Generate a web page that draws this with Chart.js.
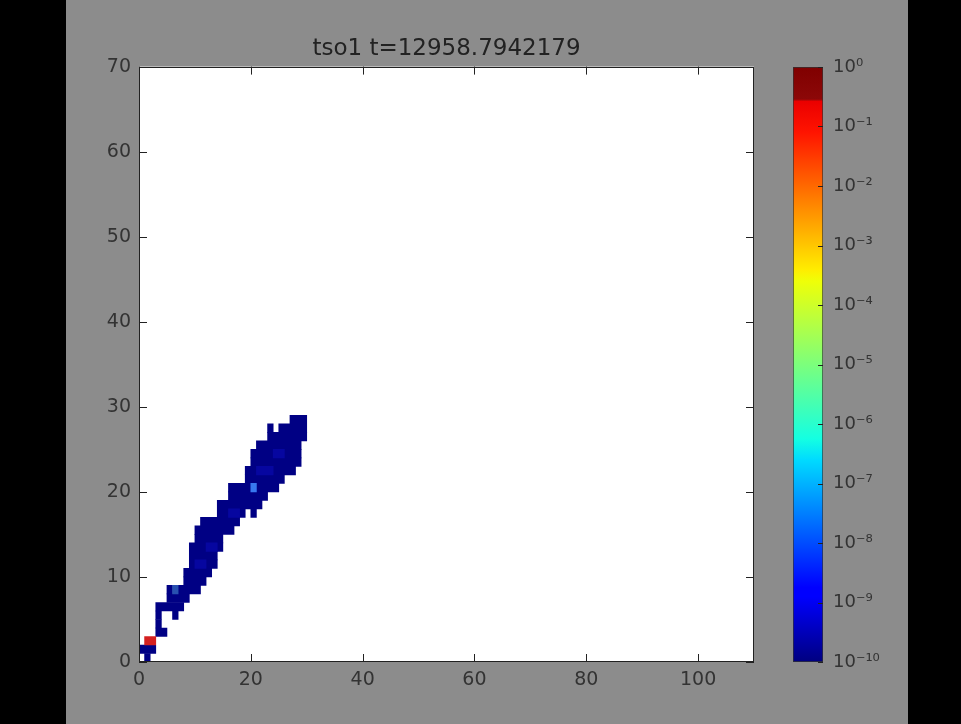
<!DOCTYPE html>
<html>
<head>
<meta charset="utf-8">
<script src="https://cdn.jsdelivr.net/npm/chart.js@4.4.0/dist/chart.umd.min.js"></script>
<style>
body { margin: 0; background: #000; }
#wrap { position: relative; width: 961px; height: 724px; }
#wrap canvas { position: absolute; left: 0; top: 0; }
</style>
</head>
<body>
<div id="wrap">
<canvas id="heat" width="961" height="724"></canvas>
<canvas id="cbar" width="961" height="724"></canvas>
</div>
<script>
const titleText = 'tso1 t=12958.7942179';
const xTicks = [0, 20, 40, 60, 80, 100];
const yTicks = [0, 10, 20, 30, 40, 50, 60, 70];
const cbTicks = [-10, -9, -8, -7, -6, -5, -4, -3, -2, -1, 0];   // log10 of the colour scale

// dark blue cells (~1e-10), one entry per run of cells in a grid row
const runRow  = [0, 1, 3, 4, 5, 5, 6, 7, 8, 8,  9, 10, 11, 12, 13, 14, 15, 16, 17, 17, 18, 19, 20, 21, 22, 23, 24, 25, 26, 27, 27, 28];
const runFrom = [1, 0, 3, 3, 3, 6, 3, 5, 5, 7,  8,  8,  9,  9,  9, 10, 10, 11, 14, 20, 14, 16, 16, 19, 19, 20, 20, 21, 23, 23, 25, 27];
const runTo   = [1, 2, 4, 3, 3, 6, 7, 8, 5, 10, 11, 12, 13, 13, 14, 14, 16, 17, 18, 20, 21, 22, 24, 25, 27, 28, 28, 28, 29, 23, 29, 29];

// slightly brighter blue cells inside the plume
const midRow  = [11, 13, 17, 22, 24];
const midFrom = [10, 12, 16, 21, 24];
const midTo   = [11, 13, 17, 23, 25];

// single hotter cells
const tealRow = [8],  tealFrom = [6],  tealTo = [6];
const cyanRow = [20], cyanFrom = [20], cyanTo = [20];
const redRow  = [2],  redFrom  = [1],  redTo  = [2];

function cells(rows, from, to) {
  return rows.map((r, i) => ({ y: r + 0.5, x: [from[i], to[i] + 1] }));
}

function sup(n) {
  const map = { '-': '\u207B', '0': '\u2070', '1': '\u00B9', '2': '\u00B2', '3': '\u00B3',
    '4': '\u2074', '5': '\u2075', '6': '\u2076', '7': '\u2077', '8': '\u2078', '9': '\u2079' };
  return String(n).split('').map(c => map[c]).join('');
}

Chart.defaults.font.family = '"DejaVu Sans", sans-serif';
Chart.defaults.animation = false;

const frame = {
  id: 'frame',
  beforeDraw(chart) {
    const { ctx, chartArea: a, width, height } = chart;
    ctx.save();
    ctx.fillStyle = '#000';
    ctx.fillRect(0, 0, width, height);
    ctx.fillStyle = '#8c8c8c';
    ctx.fillRect(66, 0, 842, height);
    ctx.fillStyle = '#fff';
    ctx.fillRect(a.left, a.top, a.right - a.left, a.bottom - a.top);
    ctx.restore();
  },
  afterDraw(chart) {
    const { ctx, chartArea: a, scales } = chart;
    ctx.save();
    ctx.strokeStyle = '#222';
    ctx.lineWidth = 1;
    ctx.beginPath();
    scales.x.ticks.forEach(t => {
      const p = Math.round(scales.x.getPixelForValue(t.value)) + 0.5;
      ctx.moveTo(p, a.bottom); ctx.lineTo(p, a.bottom - 8);
      ctx.moveTo(p, a.top); ctx.lineTo(p, a.top + 8);
    });
    scales.y.ticks.forEach(t => {
      const p = Math.round(scales.y.getPixelForValue(t.value)) + 0.5;
      ctx.moveTo(a.left, p); ctx.lineTo(a.left + 8, p);
      ctx.moveTo(a.right, p); ctx.lineTo(a.right - 8, p);
    });
    ctx.stroke();
    ctx.strokeRect(Math.round(a.left) + 0.5, Math.round(a.top) + 0.5,
      Math.round(a.right - a.left) - 1, Math.round(a.bottom - a.top) - 1);
    ctx.restore();
  }
};

const tickFont = { size: 19 };
const tickColor = '#333';

new Chart(document.getElementById('heat').getContext('2d'), {
  type: 'bar',
  data: {
    datasets: [
      { data: cells(redRow, redFrom, redTo), backgroundColor: '#d42020', order: 0 },
      { data: cells(cyanRow, cyanFrom, cyanTo), backgroundColor: '#3878f0', order: 0 },
      { data: cells(tealRow, tealFrom, tealTo), backgroundColor: '#2850b0', order: 0 },
      { data: cells(midRow, midFrom, midTo), backgroundColor: '#0606a0', order: 1 },
      { data: cells(runRow, runFrom, runTo), backgroundColor: '#000084', order: 2 }
    ]
  },
  options: {
    responsive: false,
    indexAxis: 'y',
    events: [],
    layout: { padding: { left: 79, right: 207, top: 0, bottom: 22 } },
    datasets: {
      bar: { grouped: false, barPercentage: 1, categoryPercentage: 1, borderWidth: 0 }
    },
    plugins: {
      legend: { display: false },
      tooltip: { enabled: false },
      title: {
        display: true,
        text: titleText,
        fullSize: false,
        color: '#222',
        font: { size: 23, weight: 'normal' },
        padding: { top: 35, bottom: 4 }
      }
    },
    scales: {
      x: {
        type: 'linear', position: 'bottom', min: 0, max: 110, offset: false,
        afterBuildTicks: s => { s.ticks = xTicks.map(v => ({ value: v })); },
        afterFit: s => { s.height = 40; },
        grid: { display: false, drawTicks: false },
        border: { display: false },
        ticks: { font: tickFont, color: tickColor, padding: 7, maxRotation: 0 }
      },
      y: {
        type: 'linear', position: 'left', min: 0, max: 70, offset: false,
        afterBuildTicks: s => { s.ticks = yTicks.map(v => ({ value: v })); },
        afterFit: s => { s.width = 60; },
        grid: { display: false, drawTicks: false },
        border: { display: false },
        ticks: { font: tickFont, color: tickColor, padding: 8 }
      }
    }
  },
  plugins: [frame]
});

// colour bar
const jetStops = [
  [0, 'rgb(0,0,128)'], [0.11, 'rgb(0,0,255)'], [0.125, 'rgb(0,0,255)'],
  [0.34, 'rgb(0,219,255)'], [0.375, 'rgb(20,255,226)'], [0.5, 'rgb(124,255,124)'],
  [0.64, 'rgb(239,255,8)'], [0.66, 'rgb(255,236,0)'], [0.89, 'rgb(255,20,0)'],
  [0.942, 'rgb(235,0,0)'], [0.946, 'rgb(140,8,8)'], [1, 'rgb(128,0,0)']
];

const cbTicksPlugin = {
  id: 'cbTicks',
  afterDraw(chart) {
    const { ctx, chartArea: a, scales } = chart;
    ctx.save();
    ctx.strokeStyle = '#222';
    ctx.lineWidth = 1;
    ctx.beginPath();
    scales.y.ticks.forEach(t => {
      const p = Math.round(scales.y.getPixelForValue(t.value)) + 0.5;
      ctx.moveTo(a.right, p); ctx.lineTo(a.right - 5, p);
    });
    ctx.stroke();
    ctx.restore();
  }
};

new Chart(document.getElementById('cbar').getContext('2d'), {
  type: 'bar',
  data: {
    labels: ['colorbar'],
    datasets: [{
      data: [[cbTicks[0], cbTicks[cbTicks.length - 1]]],
      backgroundColor: ctx => {
        const area = ctx.chart.chartArea;
        if (!area) return '#888';
        const g = ctx.chart.ctx.createLinearGradient(0, area.bottom, 0, area.top);
        jetStops.forEach(s => g.addColorStop(s[0], s[1]));
        return g;
      },
      borderColor: '#333',
      borderWidth: 1,
      borderSkipped: false,
      barPercentage: 1,
      categoryPercentage: 1
    }]
  },
  options: {
    responsive: false,
    events: [],
    layout: { padding: { left: 793, right: 48, top: 67, bottom: 62 } },
    plugins: { legend: { display: false }, tooltip: { enabled: false }, title: { display: false } },
    scales: {
      x: { display: false },
      y: {
        type: 'linear', position: 'right', min: -10, max: 0,
        afterBuildTicks: s => { s.ticks = cbTicks.map(v => ({ value: v })); },
        afterFit: s => { s.width = 90; },
        grid: { display: false, drawTicks: false },
        border: { display: false },
        ticks: { font: { size: 18 }, color: tickColor, padding: 10, callback: v => '10' + sup(v) }
      }
    }
  },
  plugins: [cbTicksPlugin]
});
</script>
</body>
</html>
